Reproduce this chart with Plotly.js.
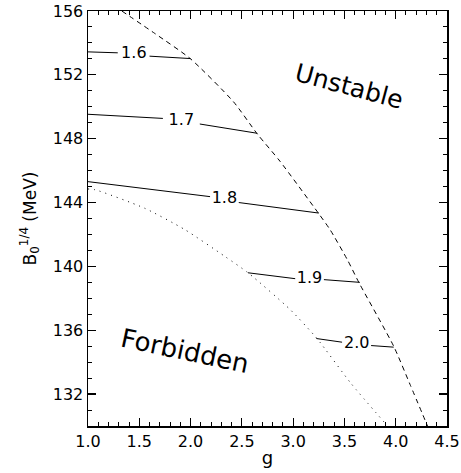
<!DOCTYPE html>
<html><head><meta charset="utf-8">
<script src="https://cdn.plot.ly/plotly-3.0.1.min.js"></script>
<style>html,body{margin:0;padding:0;background:#fff;}#chart{width:461px;height:473px;}</style>
</head><body><div id="chart"></div>
<script>
// Stability boundary (dashed) and forbidden boundary (dotted)
const unstableG = [1.33, 1.65, 2.0, 2.42, 2.65, 2.87, 3.25, 3.36, 3.53, 3.64, 3.98, 4.14, 4.31];
const unstableB = [156.0, 154.6, 153.0, 150.3, 148.3, 146.6, 143.3, 142.3, 140.4, 139.0, 135.0, 132.6, 130.0];
const forbiddenG = [1.0, 1.07, 1.55, 1.945, 2.34, 2.56, 2.97, 3.23, 3.56, 3.92];
const forbiddenB = [144.85, 144.8, 143.65, 142.3, 140.6, 139.6, 137.3, 135.5, 132.7, 130.0];

// Contour lines (label value, line points split around label gap)
const levels = ["1.6", "1.7", "1.8", "1.9", "2.0"];
const contourG = [
  [1.0, 1.29, null, 1.60, 2.0],
  [1.0, 1.73, null, 2.09, 2.65],
  [1.0, 2.19, null, 2.47, 3.25],
  [2.56, 3.02, null, 3.30, 3.65],
  [3.226, 3.477, null, 3.76, 3.98]
];
const contourB = [
  [153.44, 153.38, null, 153.17, 153.02],
  [149.53, 149.27, null, 148.92, 148.34],
  [145.31, 144.37, null, 144.0, 143.34],
  [139.6, 139.23, null, 139.17, 139.0],
  [135.48, 135.25, null, 135.04, 134.94]
];
const labelG = [1.447, 1.91, 2.33, 3.16, 3.62];
const labelB = [153.3, 149.1, 144.2, 139.2, 135.15];

const xTicks = [1.0, 1.5, 2.0, 2.5, 3.0, 3.5, 4.0, 4.5];
const yTicks = [132, 136, 140, 144, 148, 152, 156];

const FONT = "DejaVu Sans, Arial, sans-serif";
const traces = [];
traces.push({x: unstableG, y: unstableB, mode: 'lines', line: {color: '#000', width: 1, dash: '5px,4px', shape: 'spline', smoothing: 0.6}, hoverinfo: 'skip'});
traces.push({x: forbiddenG, y: forbiddenB, mode: 'lines', line: {color: '#000', width: 1, dash: '1px,5px', shape: 'spline', smoothing: 0.6}, hoverinfo: 'skip'});
for (let i = 0; i < levels.length; i++) {
  traces.push({x: contourG[i], y: contourB[i], mode: 'lines', connectgaps: false, line: {color: '#000', width: 1}, hoverinfo: 'skip'});
}
traces.push({x: labelG, y: labelB, mode: 'text', text: levels, textposition: 'middle center', textfont: {family: FONT, size: 16, color: '#000'}, hoverinfo: 'skip'});

const axisCommon = {
  showline: true, linecolor: '#000', linewidth: 1.5, mirror: 'ticks',
  ticks: 'inside', ticklen: 8, tickwidth: 1.2, tickcolor: '#000',
  showgrid: false, zeroline: false,
  tickfont: {family: FONT, size: 16, color: '#000'}
};

const layout = {
  width: 461, height: 473,
  margin: {l: 88, r: 14, t: 11, b: 47},
  paper_bgcolor: '#fff', plot_bgcolor: '#fff',
  showlegend: false,
  xaxis: Object.assign({}, axisCommon, {
    range: [1.0, 4.5], tickvals: xTicks, ticktext: xTicks.map(v => v.toFixed(1)),
    minor: {dtick: 0.1, tick0: 1.0, ticks: 'inside', ticklen: 4, tickcolor: '#000', tickwidth: 1},
    title: {text: 'g', font: {family: FONT, size: 18, color: '#000'}, standoff: 1}
  }),
  yaxis: Object.assign({}, axisCommon, {
    range: [130, 156], tickvals: yTicks,
    minor: {dtick: 1, tick0: 130, ticks: 'inside', ticklen: 4, tickcolor: '#000', tickwidth: 1},
    title: {text: 'B<sub>0</sub><sup>1/4</sup> (MeV)', font: {family: FONT, size: 17, color: '#000'}, standoff: 12}
  }),
  annotations: [
    {x: 3.55, y: 151.3, xref: 'x', yref: 'y', text: 'Unstable', showarrow: false, textangle: 15,
     font: {family: FONT, size: 25, color: '#000'}},
    {x: 1.95, y: 134.7, xref: 'x', yref: 'y', text: 'Forbidden', showarrow: false, textangle: 12,
     font: {family: FONT, size: 26, color: '#000'}}
  ]
};

Plotly.newPlot('chart', traces, layout, {displayModeBar: false, staticPlot: true});
</script>
</body></html>
